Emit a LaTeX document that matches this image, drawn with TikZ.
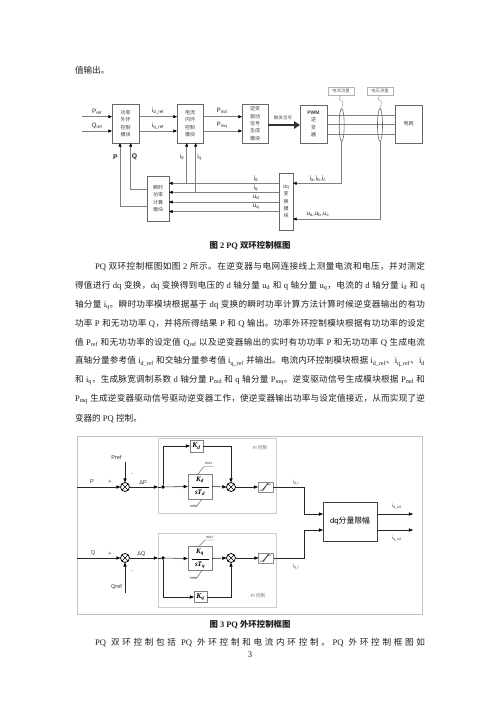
\documentclass[tikz,border=0pt]{standalone}
\usepackage{fontspec}
\setmainfont{Liberation Serif}
\setsansfont{Liberation Sans}
\newfontfamily\cjkfam{Noto Sans CJK SC}
\usetikzlibrary{arrows.meta,calc,shapes.geometric}
% automatic switching between Latin and CJK fonts
\newXeTeXintercharclass\cjkcls
\newcount\cjkc
\def\cjkrange#1#2{\cjkc=#1\relax
  \loop\XeTeXcharclass\cjkc=\cjkcls\relax
  \advance\cjkc by 1\relax
  \ifnum\cjkc<#2\relax\repeat}
\cjkrange{"3000}{"3040}
\cjkrange{"3400}{"4DC0}
\cjkrange{"4E00}{"A000}
\cjkrange{"FF00}{"FFF0}
\def\cjkglue{\hskip0pt plus 1pt\relax}
\def\latfam{\rmfamily}
\XeTeXinterchartoks\cjkcls\cjkcls={\cjkglue}
\XeTeXinterchartoks 0 \cjkcls={\cjkglue\cjkfam}
\XeTeXinterchartoks 4095 \cjkcls={\cjkfam}
\XeTeXinterchartoks\cjkcls 0 ={\latfam\cjkglue}
\XeTeXinterchartoks\cjkcls 4095 ={\latfam}
\XeTeXinterchartokenstate=1
\begin{document}
\begin{tikzpicture}[x=1pt,y=-1pt,
 every node/.style={inner sep=0pt,outer sep=0pt},
 body/.style={anchor=west,text=black!88,font={\fontsize{8.6}{10}\selectfont}},
 capt/.style={text=black!88,font={\bfseries\fontsize{8.4}{10}\selectfont}},
 tbox/.style={draw=black!60,line width=0.6pt,align=center,text=black!75,font={\def\latfam{\sffamily}\sffamily\fontsize{5}{7.4}\selectfont}},
 tl/.style={text=black!85,font={\def\latfam{\sffamily}\sffamily\fontsize{6.3}{7}\selectfont}},
 callout/.style={draw=black!30,line width=0.5pt,text=black!60,minimum width=26pt,minimum height=8pt,font={\fontsize{4.3}{5}\selectfont}},
 wire/.style={draw=black!50,line width=0.6pt},
 arr/.style={wire,-{Triangle[length=3.6pt,width=3pt,color=black]}},
 sens/.style={ellipse,draw=black!60,line width=0.6pt,minimum width=5pt,minimum height=33pt},
 bw/.style={draw=black!85,line width=0.55pt},
 barr/.style={bw,-{Triangle[length=4.2pt,width=3.2pt,color=black]}},
 pibox/.style={draw=black!20,line width=0.7pt},
 kbox/.style={draw=black!50,line width=0.5pt,font={\bfseries\itshape\fontsize{7.5}{8}\selectfont}},
 ibox/.style={draw=black!50,line width=0.5pt,align=center,font={\bfseries\itshape\fontsize{7}{7.5}\selectfont}},
 sml/.style={text=black!80,font={\def\latfam{\sffamily}\sffamily\fontsize{5.6}{6}\selectfont}},
 tiny/.style={text=black!80,font={\def\latfam{\sffamily}\sffamily\fontsize{4.8}{5}\selectfont}},
 mm/.style={text=black!70,font={\itshape\fontsize{4.5}{5}\selectfont}},
 sumc/.style={circle,draw=black,line width=0.75pt,minimum size=9pt,
   path picture={\draw[black,line width=0.6pt]
     ([shift={(45:5)}]path picture bounding box.center) -- ([shift={(225:5)}]path picture bounding box.center)
     ([shift={(135:5)}]path picture bounding box.center) -- ([shift={(-45:5)}]path picture bounding box.center);}},
 dotc/.style={circle,fill=black,minimum size=3.6pt},
 satb/.style={draw=black!45,line width=0.5pt,minimum width=15pt,minimum height=10pt,
   path picture={\draw[black,line width=0.5pt] ($(path picture bounding box.center)+(-6,3)$) -- ++(3,0) -- ++(5,-6) -- ++(3,0);
     \draw[black!70,line width=0.4pt,-{Stealth[length=2pt,width=2pt]}] ($(path picture bounding box.center)+(-3,4.5)$) -- ++(6,-9);}},
 limb/.style={draw=black!75,line width=0.6pt,minimum width=54pt,minimum height=39pt,font={\def\latfam{\sffamily}\sffamily\fontsize{7.8}{9}\selectfont}},
]
\useasboundingbox[fill=white] (0,0) rectangle (500,707);

% ---------------- text above ----------------
\node[body] (t0) at (75,70) {值输出。};

% ---------------- figure 2 ----------------
\node[tbox,minimum width=27pt,minimum height=39pt] (b1) at (125.5,123.5) {功率\\外环\\控制\\模块};
\node[tbox,minimum width=26pt,minimum height=39pt] (b2) at (190,123.5) {电流\\内环\\控制\\模块};
\node[tbox,minimum width=26pt,minimum height=39pt] (b3) at (255,123.5) {逆变\\驱动\\信号\\生成\\模块};
\node[tbox,minimum width=27pt,minimum height=38pt] (pwm) at (313.5,124) {\bfseries PWM\\逆\\变\\器};
\node[tbox,minimum width=27pt,minimum height=38pt] (grid) at (408.5,124) {电网};
\node[tbox,minimum width=14pt,minimum height=57pt] (dq) at (286,201.5) {dq\\变\\换\\模\\块};
\node[tbox,minimum width=22pt,minimum height=45pt] (inst) at (158,198.5) {瞬时\\功率\\计算\\模块};

\coordinate (y1) at (0,116.7);
\coordinate (y2) at (0,131);
\coordinate (prefin) at (82,116.7);
\coordinate (qrefin) at (82,131);
\draw[arr] (prefin) -- (prefin -| b1.west);
\draw[arr] (qrefin) -- (qrefin -| b1.west);
\node[tl] (lpref) at (97,111.5) {P\textsubscript{ref}};
\node[tl] (lqref) at (97,126) {Q\textsubscript{ref}};
\draw[arr] (b1.east |- y1) -- (b2.west |- y1);
\draw[arr] (b1.east |- y2) -- (b2.west |- y2);
\node[tl] (lidref) at (158,111.5) {i\textsubscript{d\_ref}};
\node[tl] (liqref) at (158,126) {i\textsubscript{q\_ref}};
\draw[arr] (b2.east |- y1) -- (b3.west |- y1);
\draw[arr] (b2.east |- y2) -- (b3.west |- y2);
\node[tl] (lpmd) at (222,110.5) {P\textsubscript{md}};
\node[tl] (lpmq) at (222,125.5) {P\textsubscript{mq}};

\coordinate (ytrig) at (0,125);
\draw[line width=2.6pt,black!80,-{Triangle[length=6pt,width=7.5pt]}] (b3.east |- ytrig) -- (pwm.west |- ytrig);
\node[text=black!65,font={\fontsize{4.6}{5}\selectfont}] (ltrig) at (283,117.5) {触发信号};

\coordinate (ya) at (0,115);
\coordinate (yb) at (0,124.5);
\coordinate (yc) at (0,134);
\draw[wire] (pwm.east |- ya) -- (grid.west |- ya);
\draw[wire] (pwm.east |- yb) -- (grid.west |- yb);
\draw[wire] (pwm.east |- yc) -- (grid.west |- yc);

\node[sens] (ci) at (341.7,125) {};
\node[sens] (vi) at (380,125) {};
\node[callout] (cm) at (341,91) {电流测量};
\node[callout] (vm) at (380,91) {电压测量};
\draw[black!35,line width=0.5pt] (cm.south) -- ++(-2,4) -- ++(4,3) -- (ci.north);
\draw[black!35,line width=0.5pt] (vm.south) -- ++(-2,4) -- ++(4,3) -- (vi.north);

\coordinate (yia) at (0,183.3);
\coordinate (yiq) at (0,192.3);
\coordinate (yud) at (0,202);
\coordinate (yuq) at (0,211.5);
\coordinate (yua) at (0,219);
\draw[arr] (ci.south) |- (dq.east |- yia);
\draw[arr] (vi.south) |- (dq.east |- yua);
\node[tl] (labc) at (318,179) {i\textsubscript{a},i\textsubscript{b},i\textsubscript{c}};
\node[tl] (luabc) at (318,214.5) {u\textsubscript{a},u\textsubscript{b},u\textsubscript{c}};

\draw[arr] (dq.west |- yia) -- (inst.east |- yia);
\draw[arr] (dq.west |- yiq) -- (inst.east |- yiq);
\draw[arr] (dq.west |- yud) -- (inst.east |- yud);
\draw[arr] (dq.west |- yuq) -- (inst.east |- yuq);
\node[tl] (lid) at (256,179) {i\textsubscript{d}};
\node[tl] (liq) at (256,188) {i\textsubscript{q}};
\node[tl] (lud) at (256,197.5) {u\textsubscript{d}};
\node[tl] (luq) at (256,207) {u\textsubscript{q}};

\coordinate (jd) at (186.7,183.3);
\coordinate (jq) at (195.7,192.3);
\draw[arr] (jd) -- (jd |- b2.south);
\draw[arr] (jq) -- (jq |- b2.south);
\node[tl] (lid2) at (182,157) {i\textsubscript{d}};
\node[tl] (liq2) at (199.5,157) {i\textsubscript{q}};

\coordinate (pcol) at (120,206);
\coordinate (qcol) at (130.7,189.3);
\draw[arr] (inst.west |- pcol) -| (pcol |- b1.south);
\draw[arr] (inst.west |- qcol) -| (qcol |- b1.south);
\node[tl,font={\sffamily\bfseries\fontsize{6.8}{7}\selectfont}] (lp) at (115.5,157) {P};
\node[tl,font={\sffamily\bfseries\fontsize{6.8}{7}\selectfont}] (lq) at (134.5,157) {Q};

\node[capt] (cap2) at (250,246) {图 2 PQ 双环控制框图};

% ---------------- paragraph ----------------
\node[body] (l1) at (95,267) {\makebox[330pt][s]{PQ 双环控制框图如图 2 所示。在逆变器与电网连接线上测量电流和电压，并对测定}};
\node[body] (l2) at (75,285.9) {\makebox[350pt][s]{得值进行 dq 变换，dq 变换得到电压的 d 轴分量 u\textsubscript{d} 和 q 轴分量 u\textsubscript{q}，电流的 d 轴分量 i\textsubscript{d} 和 q}};
\node[body] (l3) at (75,304.8) {\makebox[350pt][s]{轴分量 i\textsubscript{q}。瞬时功率模块根据基于 dq 变换的瞬时功率计算方法计算时候逆变器输出的有功}};
\node[body] (l4) at (75,323.7) {\makebox[350pt][s]{功率 P 和无功功率 Q，并将所得结果 P 和 Q 输出。功率外环控制模块根据有功功率的设定}};
\node[body] (l5) at (75,342.6) {\makebox[350pt][s]{值 P\textsubscript{ref} 和无功功率的设定值 Q\textsubscript{ref} 以及逆变器输出的实时有功功率 P 和无功功率 Q 生成电流}};
\node[body] (l6) at (75,361.5) {\makebox[350pt][s]{直轴分量参考值 i\textsubscript{d\_ref} 和交轴分量参考值 i\textsubscript{q\_ref} 并输出。电流内环控制模块根据 i\textsubscript{d\_ref}、i\textsubscript{q\_ref}、i\textsubscript{d}}};
\node[body] (l7) at (75,380.4) {\makebox[350pt][s]{和 i\textsubscript{q}，生成脉宽调制系数 d 轴分量 P\textsubscript{md} 和 q 轴分量 P\textsubscript{mq}。逆变驱动信号生成模块根据 P\textsubscript{md} 和}};
\node[body] (l8) at (75,399.3) {\makebox[350pt][s]{P\textsubscript{mq} 生成逆变器驱动信号驱动逆变器工作，使逆变器输出功率与设定值接近，从而实现了逆}};
\node[body] (l9) at (75,418.2) {变器的 PQ 控制。};

% ---------------- figure 3 ----------------
\draw[draw=black!25,line width=0.8pt] (77,436) rectangle (422,614.5);
\node[pibox,minimum width=118pt,minimum height=75pt] (pi1) at (217,475.5) {};
\node[pibox,minimum width=118pt,minimum height=74pt] (pi2) at (217,570) {};
\node[text=black!55,font={\fontsize{4.6}{5}\selectfont}] (lpi1) at (260,448) {PI 控制};
\node[text=black!55,font={\fontsize{4.6}{5}\selectfont}] (lpi2) at (258,596) {PI 控制};

% upper row
\node[sumc] (s1) at (125,487) {};
\coordinate (pin2) at (77,487);
\coordinate (prefc) at (125,462);
\draw[barr] (pin2) -- (s1.west);
\draw[barr] (prefc) -- (s1.north);
\node[sml] (lP) at (92,482) {P};
\node[sml] (lplus1) at (110,482) {+};
\node[sml] (lPref) at (116.5,457.5) {Pref};
\node[sml] (lminus1) at (132.5,474.5) {-};
\node[sml] (ldP) at (143,483) {ΔP};
\node[dotc] (d1) at (163,487) {};
\draw[barr] (s1.east) -- (s1.east -| pi1.west);
\draw[bw] (s1.east -| pi1.west) -- (d1);
\node[kbox,minimum width=13pt,minimum height=12pt] (kd) at (196.5,446) {K\textsubscript{d}};
\node[ibox,minimum width=24.5pt,minimum height=25pt] (i1) at (200,486.5) {K\textsubscript{d}\\[-1.5pt]\rule{17pt}{0.45pt}\\[-0.5pt]sT\textsubscript{d}};
\draw[barr] (d1) -- (i1.west);
\draw[barr] (d1) |- (kd.west);
\node[sumc] (s2) at (231,487) {};
\draw[barr] (kd.east) -| (s2.north);
\draw[barr] (i1.east) -- (s2.west);
\node[satb] (sat1) at (265.5,487) {};
\draw[barr] (s2.east) -- (sat1.west);
\node[mm] (lmax1) at (208.5,463) {max};
\node[mm] (lmin1) at (194,506.5) {min};
\draw[black!70,line width=0.4pt] (198,474) -- (204,466.5) -- (213,466.5);
\draw[black!70,line width=0.4pt] (202,499) -- (197,506) -- (189,506);

\node[limb] (lim) at (350,521.5) {dq分量限幅};
\coordinate (ydr) at (0,514);
\coordinate (yqr) at (0,530);
\coordinate (xj) at (304,0);
\coordinate (xout) at (413,0);
\draw[barr] (sat1.east) -| (xj |- ydr) -- (lim.west |- ydr);
\node[tiny] (ldr) at (296,482.5) {i\textsubscript{d\_r}};
\draw[barr] (lim.east |- ydr) -- (xout |- ydr);
\draw[barr] (lim.east |- yqr) -- (xout |- yqr);
\node[tiny] (ldref) at (397,507) {i\textsubscript{d\_ref}};
\node[tiny] (lqref) at (397,538.5) {i\textsubscript{q\_ref}};

% lower row
\node[sumc] (s3) at (125,558) {};
\coordinate (qin2) at (77,558);
\coordinate (qrefc) at (125,593);
\draw[barr] (qin2) -- (s3.west);
\draw[barr] (qrefc) -- (s3.south);
\node[sml] (lQ) at (93,553.5) {Q};
\node[sml] (lplus2) at (110,553.5) {+};
\node[sml] (lQref) at (116.5,586.5) {Qref};
\node[sml] (lminus2) at (132.5,571.5) {-};
\node[sml] (ldQ) at (141.5,554.5) {ΔQ};
\node[dotc] (d2) at (163,558) {};
\draw[barr] (s3.east) -- (s3.east -| pi2.west);
\draw[bw] (s3.east -| pi2.west) -- (d2);
\node[ibox,minimum width=24.5pt,minimum height=24pt] (i2) at (200,558.5) {K\textsubscript{q}\\[-1.5pt]\rule{17pt}{0.45pt}\\[-0.5pt]sT\textsubscript{q}};
\node[kbox,minimum width=13pt,minimum height=11pt] (kq) at (200.5,597) {K\textsubscript{q}};
\draw[barr] (d2) -- (i2.west);
\draw[barr] (d2) |- (kq.west);
\node[sumc] (s4) at (231,558) {};
\draw[barr] (kq.east) -| (s4.south);
\draw[barr] (i2.east) -- (s4.west);
\node[satb] (sat2) at (266,558) {};
\draw[barr] (s4.east) -- (sat2.west);
\draw[barr] (sat2.east) -| (xj |- yqr) -- (lim.west |- yqr);
\node[tiny] (lqr) at (296,566.5) {i\textsubscript{q\_r}};
\node[mm] (lmax2) at (209.5,537) {max};
\node[mm] (lmin2) at (194,578) {min};
\draw[black!70,line width=0.4pt] (199,546.5) -- (205,540) -- (214,540);
\draw[black!70,line width=0.4pt] (202,570.5) -- (197,577.5) -- (189,577.5);

\node[capt] (cap3) at (250,624.5) {图 3 PQ 外环控制框图};

% ---------------- text below ----------------
\node[body] (lb) at (95,643) {\makebox[330pt][s]{PQ 双环控制包括 PQ 外环控制和电流内环控制。PQ 外环控制框图如}};
\node[body,anchor=center] (pg) at (250,654.5) {3};
\end{tikzpicture}
\end{document}
